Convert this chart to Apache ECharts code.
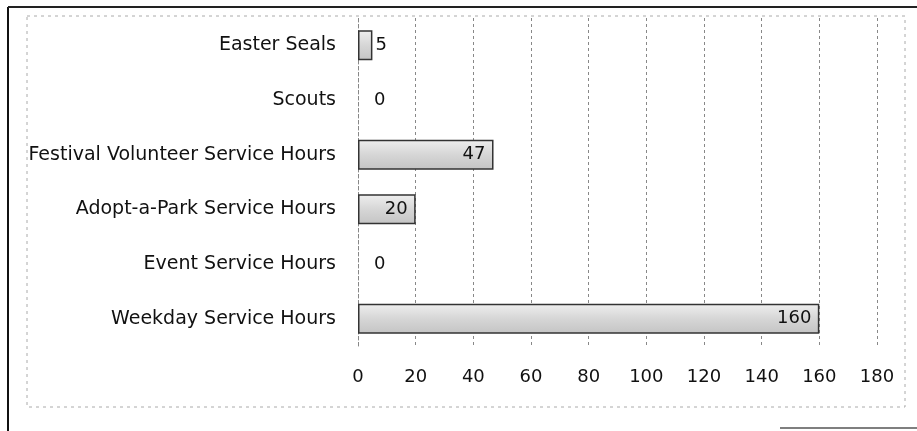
<!DOCTYPE html>
<html>
<head>
<meta charset="utf-8">
<script src="https://cdn.jsdelivr.net/npm/echarts@6/dist/echarts.min.js"></script>
<style>
html,body{margin:0;padding:0;background:#fff;}
#main{width:917px;height:431px;}
</style>
</head>
<body>
<div id="main"></div>
<script>
// categories from bottom to top (echarts category y axis starts at bottom)
var categories=["Weekday Service Hours","Event Service Hours","Adopt-a-Park Service Hours","Festival Volunteer Service Hours","Scouts","Easter Seals"];
var hours=[160,0,20,47,0,5];
var xTicks=[0,20,40,60,80,100,120,140,160,180];

var chart=echarts.init(document.getElementById('main'));

var barData=hours.map(function(v){
	var item={value:v};
	if(v<10){//small bars: label sits outside
		item.label={position:'right',distance:v==0?16:3};
	}
	if(v==0){
		item.itemStyle={borderWidth:0};
	}
	return item;
});

var option={
	animation:false,
	textStyle:{fontFamily:'DejaVu Sans'},
	grid:{left:358,right:40,top:18,bottom:85,containLabel:false},
	xAxis:{
		type:'value',
		min:xTicks[0],
		max:xTicks[xTicks.length-1],
		interval:20,
		axisLine:{show:false},
		axisTick:{show:false},
		axisLabel:{color:'#111',fontSize:18,margin:22,fontFamily:'DejaVu Sans'},
		splitLine:{show:true,lineStyle:{color:'#888',type:[3,3],width:1}}
	},
	yAxis:{
		type:'category',
		data:categories,
		axisLine:{show:true,lineStyle:{color:'#888',type:[3,3]}},
		axisTick:{show:false},
		axisLabel:{color:'#111',fontSize:19,margin:22,fontFamily:'DejaVu Sans'}
	},
	series:[{
		type:'bar',
		data:barData,
		barWidth:'55%',
		itemStyle:{
			color:new echarts.graphic.LinearGradient(0,0,0,1,[
				{offset:0,color:'#efefef'},
				{offset:0.5,color:'#d6d6d6'},
				{offset:1,color:'#c4c4c4'}
			]),
			borderColor:'#333',
			borderWidth:1.5
		},
		label:{
			show:true,
			position:'insideRight',
			distance:8,
			color:'#111',
			fontSize:18,
			fontFamily:'DejaVu Sans'
		}
	}],
	graphic:[
		{type:'rect',shape:{x:27,y:16,width:878,height:391},style:{fill:null,stroke:'#aaa',lineDash:[3,4],lineWidth:1},silent:true},
		{type:'line',shape:{x1:8,y1:7,x2:8,y2:431},style:{stroke:'#111',lineWidth:2}},
		{type:'line',shape:{x1:8,y1:7,x2:917,y2:7},style:{stroke:'#222',lineWidth:2}},
		{type:'line',shape:{x1:780,y1:428,x2:917,y2:428},style:{stroke:'#555',lineWidth:1.5}}
	]
};
chart.setOption(option);
</script>
</body>
</html>
